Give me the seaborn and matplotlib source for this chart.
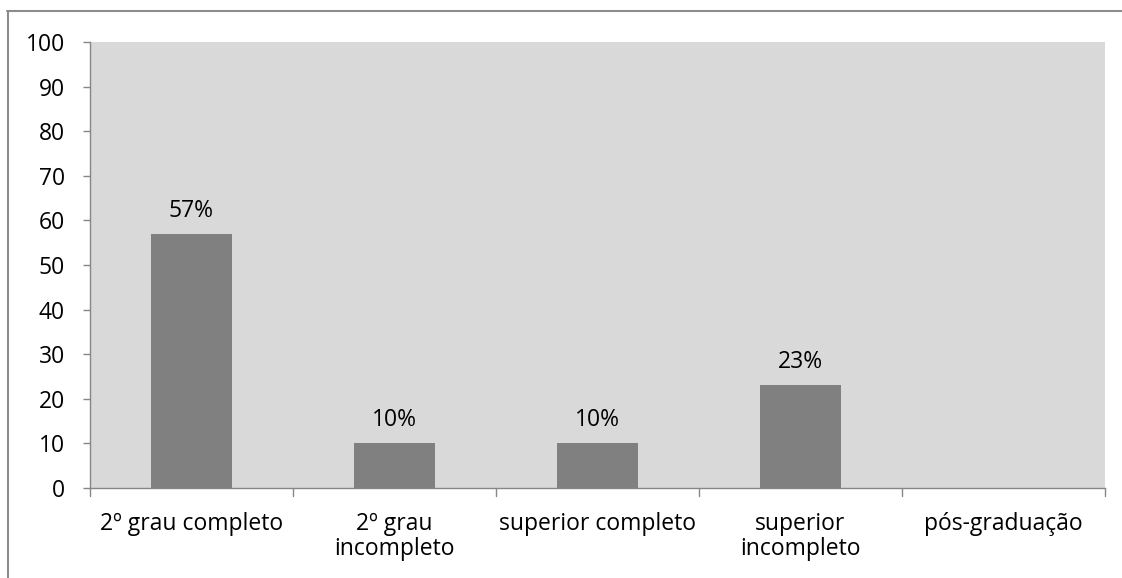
import matplotlib
matplotlib.use("Agg")
import matplotlib.pyplot as plt
from matplotlib.lines import Line2D
import seaborn as sns
import pandas as pd

categories = ["2º grau completo", "2º grau\nincompleto", "superior completo",
              "superior\nincompleto", "pós-graduação"]
values = [57, 10, 10, 23, 0]
value_labels = ["57%", "10%", "10%", "23%", ""]
y_ticks = [0, 10, 20, 30, 40, 50, 60, 70, 80, 90, 100]

df = pd.DataFrame({"categoria": categories, "valor": values})

sns.set_theme(style="white")
plt.rcParams["font.family"] = ["Open Sans", "DejaVu Sans"]

W, H = 1122, 578
FS = 16.5
fig = plt.figure(figsize=(W / 100, H / 100), dpi=100)
ax = fig.add_axes([90 / W, 1 - 488 / H, (1105 - 90) / W, (488 - 42) / H])
ax.set_facecolor("#D9D9D9")

sns.barplot(data=df, x="categoria", y="valor", color="#808080", width=0.4,
            saturation=1, linewidth=0, ax=ax, zorder=2)

for patch, lab in zip(ax.patches, value_labels):
    if lab:
        ax.annotate(lab, (patch.get_x() + patch.get_width() / 2, patch.get_height()),
                    xytext=(0, 8), textcoords="offset points",
                    ha="center", va="bottom", fontsize=FS, color="black")

ax.set_ylim(0, 100)
ax.set_xlim(-0.5, len(categories) - 0.5)
ax.set_yticks(y_ticks)
ax.set_yticklabels([str(t) for t in y_ticks], fontsize=FS, color="black")
ax.set_xticks(range(len(categories)))
ax.set_xticklabels(categories, fontsize=FS, color="black", linespacing=1.1)
ax.tick_params(axis="x", length=0, pad=17)
ax.tick_params(axis="y", length=5, width=1, color="#868686", pad=13, left=True)
ax.set_xlabel("")
ax.set_ylabel("")

# category separators below the baseline
for b in [x - 0.5 for x in range(len(categories) + 1)]:
    ax.plot([b, b], [0, -1.7], color="#868686", lw=1, clip_on=False, zorder=3)

for side in ["top", "right"]:
    ax.spines[side].set_visible(False)
for side in ["left", "bottom"]:
    ax.spines[side].set_color("#868686")
    ax.spines[side].set_linewidth(1)

# outer chart frame
fig.add_artist(Line2D([7 / W, 1], [1 - 10.5 / H, 1 - 10.5 / H],
                      transform=fig.transFigure, color="#8C8C8C", lw=1.5))
fig.add_artist(Line2D([7.5 / W, 7.5 / W], [0, 1 - 10.5 / H],
                      transform=fig.transFigure, color="#8C8C8C", lw=1.5))

fig.savefig("out.png", dpi=100, facecolor="white")
